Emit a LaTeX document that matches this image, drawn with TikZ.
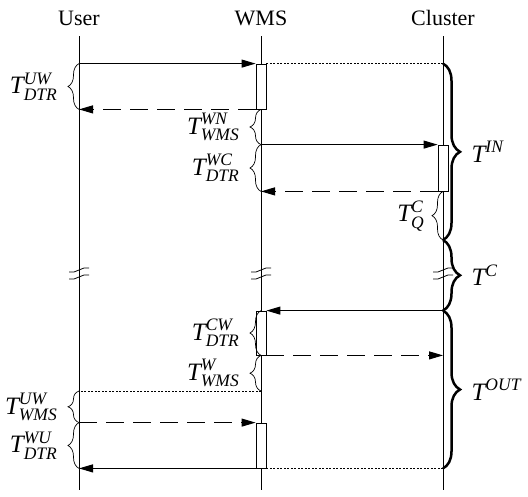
\documentclass[tikz,border=0pt]{standalone}
\usepackage{amsmath}
\usepackage{fontspec}
\setmainfont{Liberation Serif}
\usetikzlibrary{arrows.meta,decorations.pathreplacing}
\def\tlab#1#2{$\textit{T}^{\textit{#1}}_{\textit{#2}}$}

\begin{document}
\begin{tikzpicture}[x=1pt,y=-1pt,
	life/.style={line width=0.8pt},
	msg/.style={line width=1pt,-{Triangle[length=14pt,width=8pt]}},
	ret/.style={msg,dash pattern=on 18pt off 9pt},
	idle/.style={line width=0.7pt,dash pattern=on 2pt off 1.5pt},
	actbox/.style={draw,line width=0.8pt,fill=white,minimum width=10pt,inner sep=0pt},
	sbrace/.style={decorate,decoration={brace,amplitude=11pt},line width=0.7pt},
	bbrace/.style={decorate,decoration={brace,amplitude=17pt},line width=2.5pt},
	hdr/.style={font=\fontsize{22}{26}\selectfont},
	lab/.style={font=\fontsize{25}{29}\selectfont}]
			%%%%% START %%%%%
			\useasboundingbox (0,0) rectangle (528,496);
			
			\node[hdr] (user) at (79,18) {User};
			\node[hdr] (wms) at (261,18) {WMS};
			\node[hdr] (cluster) at (443,18) {Cluster};
			
			\coordinate (ut) at (79,36);
			\coordinate (ub) at (79,490);
			\coordinate (wt) at (261,36);
			\coordinate (wb) at (261,490);
			\coordinate (ct) at (443,36);
			\coordinate (cb) at (443,490);
			
			\draw[life] (ut) -- (ub);
			\draw[life] (wt) -- (wb);
			\draw[life] (ct) -- (cb);
			
			\node[actbox,minimum height=45pt] (b1) at (261,86.5) {};
			\node[actbox,minimum height=46pt] (b2) at (443,168) {};
			\node[actbox,minimum height=44pt] (b3) at (261,333) {};
			\node[actbox,minimum height=45pt] (b4) at (261,445.5) {};
			
			\coordinate (qend) at (443,240);
			\coordinate (wend) at (261,391);
			
			\draw[msg] (ut |- b1.north) -- (b1.north west);
			\draw[ret] (b1.south west) -- (ut |- b1.south);
			\draw[idle] (b1.north east) -- (ct |- b1.north);
			
			\draw[msg] (wt |- b2.north) -- (b2.north west);
			\draw[ret] (b2.south west) -- (wt |- b2.south);
			
			\draw[msg] (ct |- b3.north) -- (b3.north east);
			\draw[ret] (b3.south east) -- (ct |- b3.south);
			
			\draw[idle] (wend) -- (ut |- wend);
			\draw[ret] (ut |- b4.north) -- (b4.north west);
			\draw[msg] (b4.south west) -- (ut |- b4.south);
			\draw[idle] (b4.south east) -- (ct |- b4.south);
			
			% break marks
			\foreach \x in {79,261,443} {
				\draw[life] (\x-10,272) -- ++(5,0) -- ++(10,-4) -- ++(5,0);
				\draw[life] (\x-10,279) -- ++(5,0) -- ++(10,-4) -- ++(5,0);
			}
			
			% small braces
			\draw[sbrace] (ut |- b1.south) -- (ut |- b1.north) node[lab,midway,left=18pt] {\tlab{UW}{DTR}};
			\draw[sbrace] (wt |- b2.north) -- (b1.south) node[lab,midway,left=18pt] {\tlab{WN}{WMS}};
			\draw[sbrace] (wt |- b2.south) -- (wt |- b2.north) node[lab,midway,left=18pt] {\tlab{WC}{DTR}};
			\draw[sbrace] (qend) -- (b2.south) node[lab,midway,left=15pt] {\tlab{C}{Q}};
			\draw[sbrace] (b3.south) -- (b3.north) node[lab,midway,left=18pt] {\tlab{CW}{DTR}};
			\draw[sbrace] (wend) -- (b3.south) node[lab,midway,left=18pt] {\tlab{W}{WMS}};
			\draw[sbrace] (ut |- b4.north) -- (ut |- wend) node[lab,midway,left=18pt] {\tlab{UW}{WMS}};
			\draw[sbrace] (ut |- b4.south) -- (ut |- b4.north) node[lab,midway,left=18pt] {\tlab{WU}{DTR}};
			
			% big braces
			\draw[bbrace] (ct |- b1.north) -- (qend) node[lab,midway,right=24pt] {$\textit{T}^{\textit{IN}}$};
			\draw[bbrace] (qend) -- (ct |- b3.north) node[lab,midway,right=24pt] {$\textit{T}^{\textit{C}}$};
			\draw[bbrace] (ct |- b3.north) -- (ct |- b4.south) node[lab,midway,right=24pt] {$\textit{T}^{\textit{OUT}}$};
			%%%%% END %%%%%
\end{tikzpicture}
\end{document}
